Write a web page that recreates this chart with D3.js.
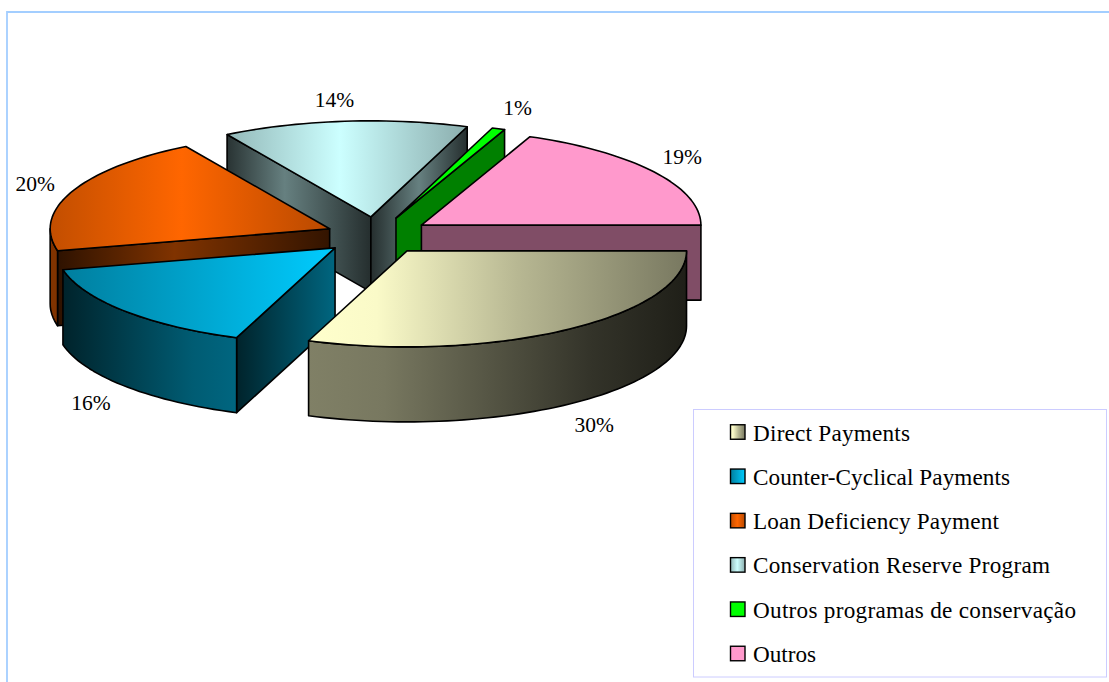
<!DOCTYPE html>
<html><head><meta charset="utf-8">
<script src="https://cdn.jsdelivr.net/npm/d3@7"></script>
<style>html,body{margin:0;padding:0;background:#fff}svg{display:block}text{font-family:"Liberation Serif",serif;fill:#000}</style>
</head><body><div id="c"></div>
<script>
// ---- data ----
const categories = ["Direct Payments","Counter-Cyclical Payments","Loan Deficiency Payment","Conservation Reserve Program","Outros programas de conservação","Outros"];
const values = [30.2,16.0,20.2,14.2,0.75,18.65];
const baseColors = ["#FFFFCC","#00CCFF","#FF6600","#CCFFFF","#00FF00","#FF99CC"];

// ---- style: shading as [offset, brightness] stops, left to right over each face ----
const topShade = [
  [[0,1],[.18,.98],[.55,.72],[1,.47]],
  [[0,.62],[1,1]],
  [[0,.76],[.47,1],[1,.72]],
  [[0,.72],[.47,1],[1,.68]],
  [[0,1]],
  [[0,1]]
];
const outerShade = [
  [[0,.5],[.2,.47],[.75,.2],[1,.12]],
  [[0,.17],[.75,.45],[1,.5]],
  [[0,.5]],
  [[0,.5]],
  [[0,.5]],
  [[0,.5]]
];
const startWallShade = [null,[[0,.17],[1,.5]],[[0,.18],[.43,.5],[1,.2]],[[0,.2],[.4,.5],[1,.18]],null,null];
const endWallShade = [null,null,null,[[0,.18],[.5,.5],[1,.18]],[[0,.5]],[[0,.5]]];
const labelOffsets = [[28,102],[-34,99],[-37,0],[-10,-14],[19,-14],[28,-8]];
const explodeBy = [.195,.195,.18,.195,.195,.195];
const legendTextWidths = [157,257,246,297,323,63];

// ---- layout ----
const W=1109,H=682,cx=376,cy=235.5,rx=279.5,ry=96,depth=75,frontStretch=.035;
const svg=d3.select("#c").append("svg").attr("width",W).attr("height",H);
const defs=svg.append("defs");
const px=d3.scaleLinear().domain([-1,1]).range([cx-rx,cx+rx]);
const py=d3.scaleLinear().domain([-1,1]).range([cy-ry,cy+ry]);
const arcs=d3.pie().sort(null).startAngle(Math.PI/2).endAngle(Math.PI/2+2*Math.PI)(values);
const line=d3.line();
const warp=t=>t+frontStretch*Math.max(Math.sin(t),0); // perspective: front half of the disc reads slightly wider

function shade(hex,k){const c=d3.rgb(hex);return d3.rgb(c.r*k,c.g*k,c.b*k).formatHex();}
let gid=0;
function grad(hex,stops,x0,x1){
  const id="g"+(gid++);
  const g=defs.append("linearGradient").attr("id",id);
  if(x0===undefined){g.attr("x1",0).attr("x2",1).attr("y1",0).attr("y2",0);}
  else{g.attr("gradientUnits","userSpaceOnUse").attr("x1",x0).attr("x2",x1).attr("y1",0).attr("y2",0);}
  stops.forEach(s=>g.append("stop").attr("offset",s[0]).attr("stop-color",shade(hex,s[1])));
  return "url(#"+id+")";
}
function arcPts(t0,t1,ox,oy,dy){
  const n=Math.max(2,Math.ceil((t1-t0)/0.03));
  return d3.range(n+1).map(i=>{const t=t0+(t1-t0)*i/n;
    return [px(Math.cos(t)+ox),py(Math.sin(t)+oy)+dy];});
}
function face(pts,fill){
  return svg.append("path").attr("d",line(pts)+"Z").attr("fill",fill)
    .attr("stroke","#000").attr("stroke-width",1.6).attr("stroke-linejoin","round");
}
const slices=arcs.map((a,i)=>{
  const t0=warp(a.startAngle-Math.PI/2),t1=warp(a.endAngle-Math.PI/2),m=(t0+t1)/2;
  return {i,t0,t1,m,ox:explodeBy[i]*Math.cos(m),oy:explodeBy[i]*Math.sin(m),v:a.value};
});
// painter's order: back to front
const order=[3,4,5,2,1,0];
order.forEach(k=>{
  const s=slices[k],hex=baseColors[k];
  const apex=[px(s.ox),py(s.oy)];
  const wall=(t,stops)=>{
    const e=[px(Math.cos(t)+s.ox),py(Math.sin(t)+s.oy)];
    const xs=[apex[0],e[0]].sort(d3.ascending);
    face([apex,e,[e[0],e[1]+depth],[apex[0],apex[1]+depth]],grad(hex,stops,xs[0],xs[1]));
  };
  if(Math.cos(s.t0)<0&&startWallShade[k]) wall(s.t0,startWallShade[k]);
  if(Math.cos(s.t1)>0&&endWallShade[k]) wall(s.t1,endWallShade[k]);
  const a0=Math.max(s.t0,0),a1=Math.min(s.t1,Math.PI);
  if(a1>a0){
    const up=arcPts(a0,a1,s.ox,s.oy,0),dn=arcPts(a0,a1,s.ox,s.oy,depth).reverse();
    const xs=d3.extent(up,d=>d[0]);
    face(up.concat(dn),grad(hex,outerShade[k],xs[0],xs[1]));
  }
  const rim=arcPts(s.t0,s.t1,s.ox,s.oy,0);
  const xs=d3.extent(rim.concat([apex]),d=>d[0]);
  face([apex].concat(rim),grad(hex,topShade[k],xs[0],xs[1]));
});
// percent labels
const pct=d3.format(".0f");
slices.forEach((s,k)=>{
  const e=1+explodeBy[k];
  svg.append("text").attr("text-anchor","middle").attr("font-size",21.5)
    .attr("x",px(Math.cos(s.m)*e)+labelOffsets[k][0])
    .attr("y",py(Math.sin(s.m)*e)+labelOffsets[k][1])
    .text(pct(s.v)+"%");
});
// frame
svg.append("path").attr("d","M7 682V12H1109").attr("fill","none").attr("stroke","#A3CEFF").attr("stroke-width",1.8);
// legend
const leg=svg.append("g");
leg.append("rect").attr("x",693.5).attr("y",409.5).attr("width",413).attr("height",267.5)
  .attr("fill","#fff").attr("stroke","#CCCCFF").attr("stroke-width",1);
const legY=d3.scalePoint().domain(categories).range([432,653.5]);
categories.forEach((c,k)=>{
  leg.append("rect").attr("x",730.5).attr("y",legY(c)-7.25).attr("width",14.5).attr("height",14.5)
    .attr("fill",grad(baseColors[k],topShade[k])).attr("stroke","#000").attr("stroke-width",1.4);
  leg.append("text").attr("x",753).attr("y",legY(c)+8.5).attr("font-size",23.2)
    .attr("textLength",legendTextWidths[k]).attr("lengthAdjust","spacing").text(c);
});
</script></body></html>
